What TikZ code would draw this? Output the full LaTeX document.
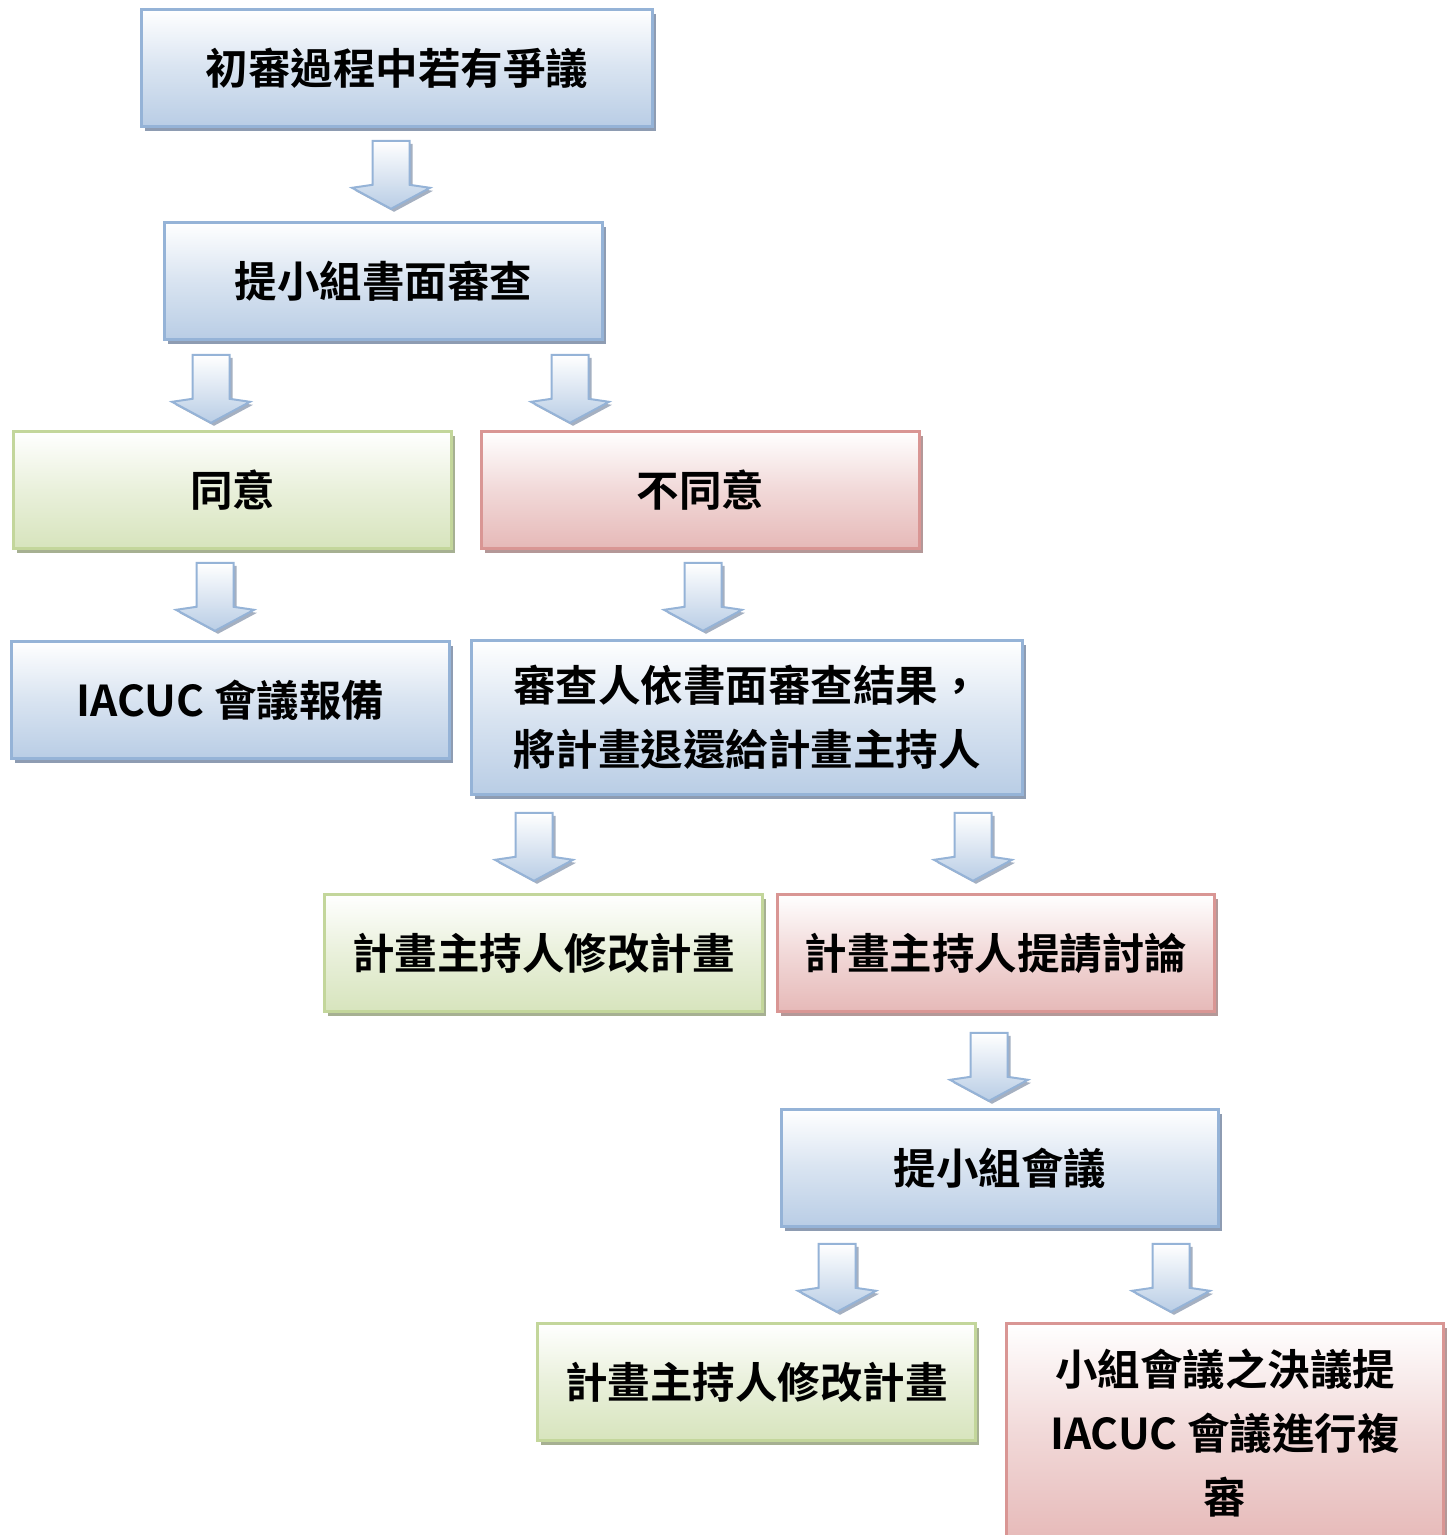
\documentclass[tikz,border=0pt]{standalone}
\usepackage{fontspec}
\usetikzlibrary{calc,shadows}
\newfontfamily\cjk{Noto Sans CJK TC}[BoldFont={Noto Sans CJK TC Bold}]
\definecolor{blueB}{RGB}{149,179,215}
\definecolor{blueF}{RGB}{185,205,229}
\definecolor{blueS}{RGB}{142,156,178}
\definecolor{greenB}{RGB}{195,214,155}
\definecolor{greenF}{RGB}{215,228,189}
\definecolor{greenS}{RGB}{166,176,146}
\definecolor{redB}{RGB}{217,150,148}
\definecolor{redF}{RGB}{230,185,184}
\definecolor{redS}{RGB}{180,152,152}
\tikzset{
  box/.style={rectangle, inner sep=0pt, line width=2.6pt, align=center,
    font=\cjk\bfseries\fontsize{42.5}{64}\selectfont},
  bluebox/.style={box, draw=blueB, top color=white, bottom color=blueF, middle color=blueF!55,
    general shadow={fill=blueS, shadow xshift=3.5pt, shadow yshift=-4pt}},
  greenbox/.style={box, draw=greenB, top color=white, bottom color=greenF, middle color=greenF!55,
    general shadow={fill=greenS, shadow xshift=3.5pt, shadow yshift=-4pt}},
  redbox/.style={box, draw=redB, top color=white, bottom color=redF, middle color=redF!55,
    general shadow={fill=redS, shadow xshift=3.5pt, shadow yshift=-4pt}},
  arrowbody/.style={draw=blueB, line width=2pt, line join=miter, top color=white, bottom color=blueF},
  arrowshadow/.style={fill=blueS!80}
}
\newcommand\arrowpath[2]{({#1-18.5pt},{#2}) -- ({#1+18.5pt},{#2}) -- ({#1+18.5pt},{#2-44pt}) -- ({#1+39pt},{#2-47pt}) -- ({#1},{#2-68pt}) -- ({#1-39pt},{#2-47pt}) -- ({#1-18.5pt},{#2-44pt}) -- cycle}
\newcommand\barrow[3]{% source node, x, gap
  \path[arrowshadow] let \p1=(#1.south) in \arrowpath{#2pt+3pt}{\y1-#3pt-3pt};
  \path[arrowbody] let \p1=(#1.south) in \arrowpath{#2pt}{\y1-#3pt};
}
\begin{document}
\begin{tikzpicture}[x=1pt,y=-1pt]
\useasboundingbox (0,0) rectangle (1456,1535);
\node[bluebox, minimum width=511, minimum height=117] (b1) at (397,68) {初審過程中若有爭議};
\node[bluebox, minimum width=438, minimum height=117] (b2) at (383.5,281) {提小組書面審查};
\node[greenbox, minimum width=438, minimum height=117] (b3) at (232.5,490) {同意};
\node[redbox, minimum width=438, minimum height=117] (b4) at (700.5,490) {不同意};
\node[bluebox, minimum width=438, minimum height=117] (b5) at (230.5,700) {IACUC 會議報備};
\node[bluebox, minimum width=551, minimum height=154] (b6) at (747,717.5) {審查人依書面審查結果，\\將計畫退還給計畫主持人};
\node[greenbox, minimum width=438, minimum height=117] (b7) at (543.5,953) {計畫主持人修改計畫};
\node[redbox, minimum width=437, minimum height=117] (b8) at (996,953) {計畫主持人提請討論};
\node[bluebox, minimum width=437, minimum height=117] (b9) at (1000,1168) {提小組會議};
\node[greenbox, minimum width=438, minimum height=117] (b10) at (756.5,1382) {計畫主持人修改計畫};
\node[redbox, minimum width=437, minimum height=220] (b11) at (1225,1433.5) {小組會議之決議提\\IACUC 會議進行複\\審};
\barrow{b1}{391}{13}
\barrow{b2}{211}{14}
\barrow{b2}{570}{14}
\barrow{b3}{215}{13}
\barrow{b4}{703}{13}
\barrow{b6}{534}{17}
\barrow{b6}{973}{17}
\barrow{b8}{989}{20}
\barrow{b9}{837}{16}
\barrow{b9}{1171}{16}
\end{tikzpicture}
\end{document}
